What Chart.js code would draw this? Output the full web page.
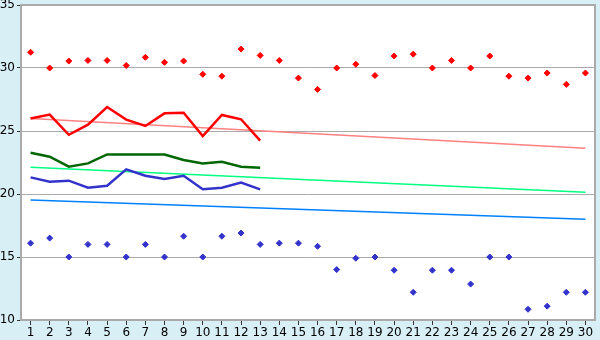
<!DOCTYPE html>
<html>
<head>
<meta charset="utf-8">
<script src="https://cdn.jsdelivr.net/npm/chart.js@4/dist/chart.umd.min.js"></script>
<style>
  html, body { margin: 0; padding: 0; background: #d9eff6; }
  #wrap { width: 600px; height: 340px; }
</style>
</head>
<body>
<div id="wrap"><canvas id="chart" width="600" height="340"></canvas></div>
<script>
    // Data
    const days = ['1','2','3','4','5','6','7','8','9','10','11','12','13','14','15',
      '16','17','18','19','20','21','22','23','24','25','26','27','28','29','30'];

    const highDots = [31.25, 30.0, 30.55, 30.6, 30.6, 30.2, 30.85, 30.45, 30.55, 29.5,
      29.35, 31.5, 31.0, 30.6, 29.2, 28.3, 30.0, 30.3, 29.4, 30.95,
      31.1, 30.0, 30.6, 30.0, 30.95, 29.35, 29.2, 29.6, 28.7, 29.6];

    const lowDots = [16.1, 16.5, 15.0, 16.0, 16.0, 15.0, 16.0, 15.0, 16.65, 15.0,
      16.65, 16.9, 16.0, 16.1, 16.1, 15.85, 14.0, 14.9, 15.0, 13.95,
      12.2, 13.95, 13.95, 12.85, 15.0, 15.0, 10.85, 11.1, 12.2, 12.2];

    const redLine = [26.0, 26.3, 24.7, 25.5, 26.9, 25.9, 25.4, 26.4, 26.45, 24.6, 26.27, 25.93, 24.23];
    const greenLine = [23.28, 22.96, 22.17, 22.43, 23.14, 23.14, 23.14, 23.14, 22.7, 22.43, 22.56, 22.17, 22.09];
    const blueLine = [21.32, 20.98, 21.06, 20.5, 20.66, 21.96, 21.45, 21.19, 21.45, 20.37, 20.5, 20.9, 20.37];

    // trend lines: [day, value] at both ends
    const pinkTrend = [['1', 26.0], ['30', 23.63]];
    const springTrend = [['1', 22.12], ['30', 20.13]];
    const azureTrend = [['1', 19.52], ['30', 17.99]];

    const yTicks = [10, 15, 20, 25, 30, 35];

    const toXY = arr => arr.map(p => ({ x: p[0], y: p[1] }));

    // background + frame
    const framePlugin = {
      id: 'frame',
      beforeDraw(chart) {
        const { ctx, chartArea: a } = chart;
        ctx.save();
        ctx.fillStyle = '#d9eff6';
        ctx.fillRect(0, 0, chart.width, chart.height);
        ctx.fillStyle = '#ffffff';
        ctx.fillRect(a.left, a.top, a.right - a.left, a.bottom - a.top);
        ctx.restore();
      },
      afterDatasetsDraw(chart) {
        const { ctx, chartArea: a } = chart;
        ctx.save();
        ctx.strokeStyle = '#aaaaaa';
        ctx.lineWidth = 2;
        ctx.beginPath();
        ctx.moveTo(a.left, a.top);
        ctx.lineTo(a.right, a.top);
        ctx.lineTo(a.right, a.bottom);
        ctx.stroke();
        ctx.restore();
      }
    };

    const ctx = document.getElementById('chart').getContext('2d');
    const chart = new Chart(ctx, {
      type: 'line',
      data: {
        labels: days,
        datasets: [
          { data: redLine, borderColor: '#ff0000', borderWidth: 2.5, pointRadius: 0, tension: 0 },
          { data: greenLine, borderColor: '#006600', borderWidth: 2.5, pointRadius: 0, tension: 0 },
          { data: blueLine, borderColor: '#3333cc', borderWidth: 2.5, pointRadius: 0, tension: 0 },
          { data: highDots, showLine: false, pointStyle: 'rectRot', pointRadius: 3,
            backgroundColor: '#ff0000', borderColor: '#ff0000', borderWidth: 1 },
          { data: lowDots, showLine: false, pointStyle: 'rectRot', pointRadius: 3,
            backgroundColor: '#3333cc', borderColor: '#3333cc', borderWidth: 1 },
          { data: toXY(pinkTrend), borderColor: '#ff8080', borderWidth: 1.5, pointRadius: 0 },
          { data: toXY(springTrend), borderColor: '#00ff80', borderWidth: 1.5, pointRadius: 0 },
          { data: toXY(azureTrend), borderColor: '#0080ff', borderWidth: 1.5, pointRadius: 0 }
        ]
      },
      options: {
        responsive: false,
        animation: false,
        layout: { padding: { top: 5, right: 5, left: 0, bottom: 0 } },
        plugins: { legend: { display: false }, tooltip: { enabled: false } },
        scales: {
          x: {
            offset: true,
            afterFit: s => { s.height = 20; s.paddingLeft = 0; s.paddingRight = 0; },
            grid: { drawOnChartArea: false, tickLength: 5, tickColor: '#333333', offset: false },
            border: { color: '#aaaaaa', width: 2 },
            ticks: { color: '#000000', padding: 1, maxRotation: 0, autoSkip: false,
              font: { family: 'DejaVu Sans', size: 12 } }
          },
          y: {
            min: 10,
            max: 35,
            afterFit: s => { s.width = 21; s.paddingTop = 0; s.paddingBottom = 0; },
            afterBuildTicks: s => { s.ticks = yTicks.map(v => ({ value: v })); },
            grid: { color: '#aaaaaa', lineWidth: 1, tickLength: 4, tickColor: '#333333' },
            border: { color: '#aaaaaa', width: 2 },
            ticks: { color: '#000000', padding: 2,
              font: { family: 'DejaVu Sans', size: 12 } }
          }
        }
      },
      plugins: [framePlugin]
    });
</script>
</body>
</html>
